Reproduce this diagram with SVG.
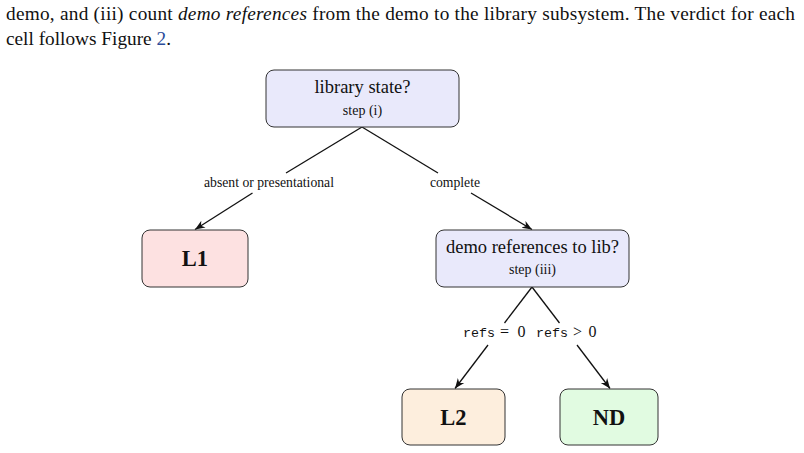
<svg xmlns="http://www.w3.org/2000/svg" width="804" height="453" viewBox="0 0 804 453">
<style>
  .body { font-family: "Liberation Serif", "Times New Roman", serif; font-size: 19.3px; fill: #111; }
  .box { stroke: #333; stroke-width: 1; }
  .q { fill: #e9e9fb; }
  .l1 { fill: #fde1e1; }
  .l2 { fill: #fdeedd; }
  .nd { fill: #e1fbe1; }
  .t { font-family: "Liberation Serif", "Times New Roman", serif; font-size: 18.5px; fill: #111; text-anchor: middle; }
  .s { font-family: "Liberation Serif", "Times New Roman", serif; font-size: 14px; fill: #111; text-anchor: middle; }
  .lab { font-family: "Liberation Serif", "Times New Roman", serif; font-size: 13.7px; fill: #111; text-anchor: middle; }
  .math { font-family: "Liberation Serif", "Times New Roman", serif; font-size: 16px; fill: #111; }
  .mono { font-family: "Liberation Mono", "Courier New", monospace; font-size: 13.3px; }
  .big { font-family: "Liberation Serif", "Times New Roman", serif; font-size: 22.5px; font-weight: bold; fill: #111; text-anchor: middle; }
  .e { stroke: #111; stroke-width: 1.3; fill: none; }
</style>
<defs>
  <marker id="arr" markerUnits="userSpaceOnUse" markerWidth="12" markerHeight="10" viewBox="-10 -5 12 10" refX="0" refY="0" orient="auto">
    <path d="M0,0 L-10,-4 L-7,0 L-10,4 Z" fill="#111"/>
  </marker>
</defs>

<text class="body" x="6" y="20" textLength="789" lengthAdjust="spacing">demo, and (iii) count <tspan font-style="italic">demo references</tspan> from the demo to the library subsystem. The verdict for each</text>
<text class="body" x="6" y="45">cell follows Figure <tspan fill="#2b4c9a">2</tspan>.</text>

<g id="connectors">
  <line class="e" x1="362" y1="127" x2="286" y2="173"/>
  <line class="e" x1="252.5" y1="193" x2="195" y2="229.5" marker-end="url(#arr)"/>
  <line class="e" x1="362" y1="127" x2="438" y2="173"/>
  <line class="e" x1="471" y1="193" x2="532" y2="229.5" marker-end="url(#arr)"/>
  <line class="e" x1="532" y1="287" x2="504.5" y2="323"/>
  <line class="e" x1="488" y1="345" x2="455" y2="388.5" marker-end="url(#arr)"/>
  <line class="e" x1="532" y1="287" x2="559.5" y2="323"/>
  <line class="e" x1="577" y1="345" x2="610" y2="388.5" marker-end="url(#arr)"/>
  <text class="lab" x="269" y="187">absent or presentational</text>
  <text class="lab" x="455" y="187">complete</text>
  <text class="math" y="337"><tspan class="mono" x="463">refs</tspan><tspan x="500">=</tspan><tspan x="517.5">0</tspan></text>
  <text class="math" y="337"><tspan class="mono" x="536">refs</tspan><tspan x="573">&gt;</tspan><tspan x="588.5">0</tspan></text>
</g>

<g id="node-library-state">
  <rect class="box q" x="266" y="70" width="193" height="57" rx="8"/>
  <text class="t" x="362.5" y="93">library state?</text>
  <text class="s" x="362.5" y="115">step (i)</text>
</g>

<g id="node-L1">
  <rect class="box l1" x="142" y="230" width="106" height="57" rx="8"/>
  <text class="big" x="195" y="266">L1</text>
</g>

<g id="node-demo-refs">
  <rect class="box q" x="436" y="230" width="193" height="57" rx="8"/>
  <text class="t" x="532.5" y="253">demo references to lib?</text>
  <text class="s" x="532.5" y="274">step (iii)</text>
</g>

<g id="node-L2">
  <rect class="box l2" x="402" y="389" width="103" height="56" rx="8"/>
  <text class="big" x="453.5" y="425">L2</text>
</g>

<g id="node-ND">
  <rect class="box nd" x="560" y="389" width="98" height="56" rx="8"/>
  <text class="big" x="609" y="425">ND</text>
</g>
</svg>
